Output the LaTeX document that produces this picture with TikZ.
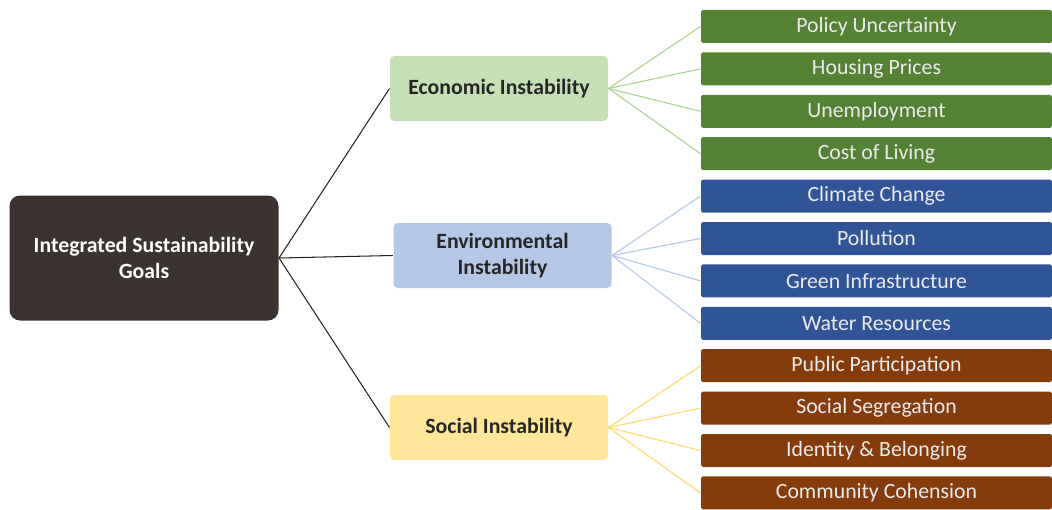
\documentclass[tikz,border=0pt]{standalone}
\usepackage{fontspec}
\setmainfont{Carlito}
\usepackage{xcolor}
\usetikzlibrary{positioning}
\definecolor{rootgray}{HTML}{3A3330}
\definecolor{ecolight}{HTML}{C5E0B4}
\definecolor{envlight}{HTML}{B4C7E7}
\definecolor{soclight}{HTML}{FFE699}
\definecolor{ecodark}{HTML}{548235}
\definecolor{envdark}{HTML}{2F5597}
\definecolor{socdark}{HTML}{843C0C}
\definecolor{ecoline}{HTML}{A9D18E}
\definecolor{socline}{HTML}{FFD966}
\tikzset{
  line cap=round,
  line join=round,
  every picture/.style={line width=0.6pt},
  rootbox/.style={fill=rootgray, rounded corners=6pt, minimum width=5.38cm, minimum height=2.5cm, align=center, text=white, font=\bfseries\fontsize{12.4}{15}\selectfont},
  catbox/.style={rounded corners=2.5pt, minimum width=4.36cm, minimum height=1.3cm, align=center, text=black!85, font=\bfseries\fontsize{12.4}{15}\selectfont},
  leafbox/.style={rounded corners=1pt, minimum width=7.02cm, minimum height=0.66cm, inner sep=0pt, text=white!92!black, font=\fontsize{12.4}{14}\selectfont},
  trunk/.style={draw=black!85, line width=0.6pt},
  twig/.style={line width=0.6pt}
}

\begin{document}
\begin{tikzpicture}
  \useasboundingbox (0,0) rectangle (21.04,10.18);

  \node[rootbox] (goals) at (2.88,5.02) {Integrated Sustainability\\Goals};

  \node[catbox, fill=ecolight] (eco) at (9.98,8.41) {Economic Instability};
  \node[catbox, fill=envlight] (env) at (10.05,5.07) {Environmental\\Instability};
  \node[catbox, fill=soclight] (soc) at (9.98,1.63) {Social Instability};

  % leaves, top to bottom
  \foreach \txt [count=\i from 0] in {Policy Uncertainty, Housing Prices, Unemployment, Cost of Living}
    \node[leafbox, fill=ecodark] (eco\i) at (17.53,9.65-0.848*\i) {\txt};
  \foreach \txt [count=\i from 0] in {Climate Change, Pollution, Green Infrastructure, Water Resources}
    \node[leafbox, fill=envdark] (env\i) at (17.53,9.65-0.848*\i-3.392) {\txt};
  \foreach \txt [count=\i from 0] in {Public Participation, Social Segregation, Identity \& Belonging, Community Cohension}
    \node[leafbox, fill=socdark] (soc\i) at (17.53,9.65-0.848*\i-6.784) {\txt};

  \foreach \c in {eco,env,soc}
    \draw[trunk] (goals.east) -- (\c.west);

  \foreach \i in {0,...,3} {
    \draw[twig, ecoline] (eco.east) -- (eco\i.west);
    \draw[twig, envlight] (env.east) -- (env\i.west);
    \draw[twig, socline] (soc.east) -- (soc\i.west);
  }
\end{tikzpicture}
\end{document}
